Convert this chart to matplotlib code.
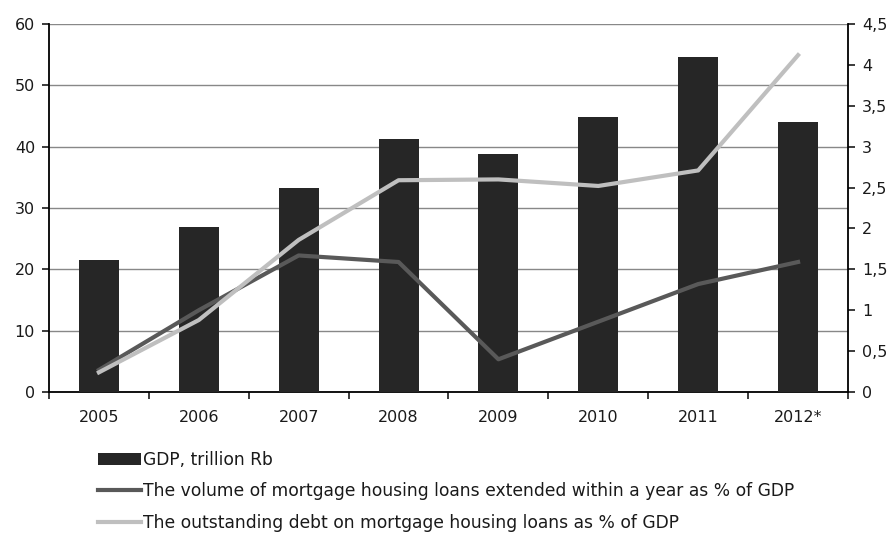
import matplotlib
matplotlib.use("Agg")
import matplotlib.pyplot as plt
from matplotlib.ticker import FuncFormatter
from matplotlib.lines import Line2D
from matplotlib.patches import Patch
import numpy as np

years = ['2005', '2006', '2007', '2008', '2009', '2010', '2011', '2012*']
gdp = [21.6, 26.9, 33.2, 41.2, 38.8, 44.9, 54.6, 44.0]
loans_volume = [0.27, 1.0, 1.67, 1.59, 0.40, 0.86, 1.32, 1.59]
debt_outstanding = [0.24, 0.88, 1.86, 2.59, 2.60, 2.52, 2.71, 4.12]

plt.rcParams['font.family'] = ['DejaVu Sans']
plt.rcParams['font.size'] = 11.5
plt.rcParams['text.color'] = '#1a1a1a'
plt.rcParams['xtick.color'] = '#1a1a1a'
plt.rcParams['ytick.color'] = '#1a1a1a'

fig = plt.figure(figsize=(8.95, 5.35), dpi=100)
ax = fig.add_axes([0.0547, 0.2673, 0.8928, 0.6877])
ax2 = ax.twinx()

x = np.arange(len(years))
ax.bar(x, gdp, width=0.4, color='#262626', zorder=3)
ax.set_ylim(0, 60)
ax.set_yticks(range(0, 61, 10))
ax.set_xlim(-0.5, len(years) - 0.5)
ax.set_xticks(x)
ax.set_xticklabels(years)
ax.set_xticks(np.arange(-0.5, len(years)), minor=True)
ax.tick_params(axis='x', which='major', length=0, pad=13)
ax.tick_params(axis='x', which='minor', length=5, width=1.2, direction='out')
ax.tick_params(axis='y', length=5, width=1.2, direction='out', pad=5)
ax.grid(axis='y', color='#888888', linewidth=1, zorder=0)
ax.set_axisbelow(True)
for s in ['top', 'right']:
    ax.spines[s].set_visible(False)
ax.spines['left'].set_linewidth(1.3)
ax.spines['bottom'].set_linewidth(1.3)

ax2.plot(x, loans_volume, color='#595959', linewidth=3, zorder=4)
ax2.plot(x, debt_outstanding, color='#bfbfbf', linewidth=3, zorder=5)
ax2.set_ylim(0, 4.5)
ax2.set_yticks(np.arange(0, 4.51, 0.5))
ax2.yaxis.set_major_formatter(FuncFormatter(lambda v, p: ('%g' % v).replace('.', ',')))
ax2.tick_params(axis='y', length=5, width=1.2, direction='out', pad=5)
for s in ['top', 'left', 'bottom']:
    ax2.spines[s].set_visible(False)
ax2.spines['right'].set_linewidth(1.3)

handles = [
    Patch(facecolor='#262626'),
    Line2D([0], [0], color='#595959', linewidth=3),
    Line2D([0], [0], color='#bfbfbf', linewidth=3),
]
labels = [
    'GDP, trillion Rb',
    'The volume of mortgage housing loans extended within a year as % of GDP',
    'The outstanding debt on mortgage housing loans as % of GDP',
]
fig.legend(handles, labels, loc='upper left', bbox_to_anchor=(0.102, 0.17),
           frameon=False, handlelength=2.5, handletextpad=0.1,
           labelspacing=0.78, borderaxespad=0, fontsize=12.3)

fig.savefig('out.png', dpi=100)
